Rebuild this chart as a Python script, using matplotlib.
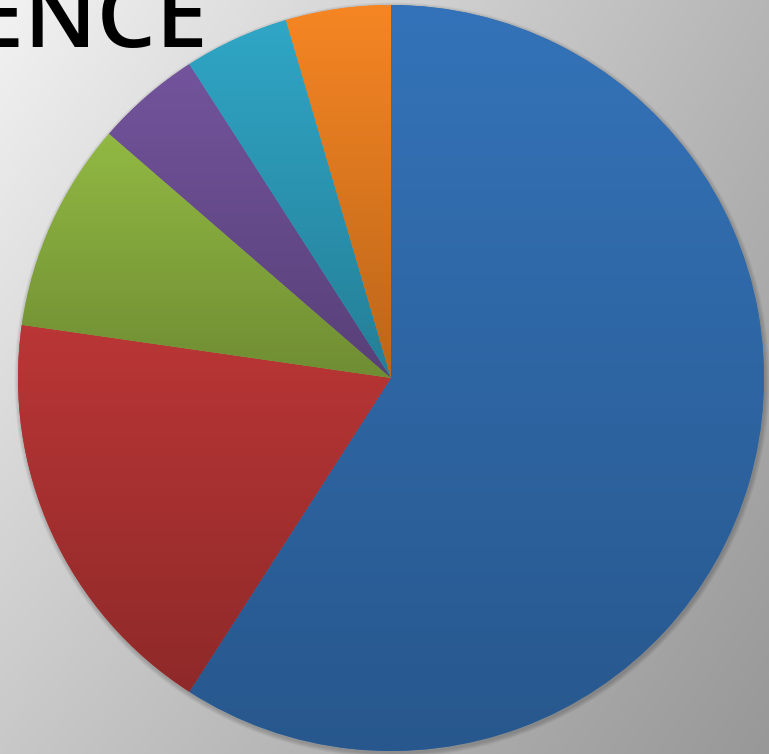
import numpy as np
import matplotlib
matplotlib.use("Agg")
import matplotlib.pyplot as plt
from matplotlib.patches import Circle

# slice sizes (clockwise from 12 o'clock)
values = [13, 4, 2, 1, 1, 1]
top_colors = ["#3473b9", "#bb3636", "#92b943", "#73549d", "#30a6c6", "#f68623"]
shade = 0.76          # bottom of each slice vs its top
title = "AUDIENCE"

W, H = 769, 754
cx, cy, R = 391, H - 378, 373

fig = plt.figure(figsize=(W / 100, H / 100), dpi=100)
ax = fig.add_axes([0, 0, 1, 1])

# background gradient (bilinear between corner greys)
tl, tr, bl, br = 242, 182, 200, 152
u = np.linspace(0, 1, 200)[None, :]
v = np.linspace(0, 1, 200)[:, None]
g = (tl * (1 - u) * (1 - v) + tr * u * (1 - v) + bl * (1 - u) * v + br * u * v) / 255
bg = np.dstack([g, g, g])
ax.imshow(bg, extent=[0, W, 0, H], origin="upper", zorder=0, interpolation="bilinear")

# soft shadow
for k in range(1, 6):
    ax.add_patch(Circle((cx + 1, cy - 2), R + k * 0.9, color="black", alpha=0.04, lw=0, zorder=1))

wedges, _ = ax.pie(values, startangle=90, counterclock=False, center=(cx, cy), radius=R,
                   colors=top_colors, frame=True, wedgeprops=dict(linewidth=0))

for w, c in zip(wedges, top_colors):
    w.set_zorder(2)
    ext = w.get_path().get_extents()
    top = np.array(matplotlib.colors.to_rgb(c))
    t = np.linspace(0, 1, 256)[:, None]
    grad = top[None, :] * (1 - t * (1 - shade))
    img = ax.imshow(grad[:, None, :], extent=[ext.x0 - 2, ext.x1 + 2, ext.y0 - 2, ext.y1 + 2],
                    origin="upper", aspect="auto", zorder=3, interpolation="bilinear")
    img.set_clip_path(w)

ax.text(208, H - 47, title, ha="right", va="baseline", fontsize=67, fontweight="semibold",
        family="Open Sans", color="black", zorder=5)

ax.set_xlim(0, W)
ax.set_ylim(0, H)
ax.set_aspect("auto")
ax.axis("off")

fig.savefig("out.png", dpi=100)
